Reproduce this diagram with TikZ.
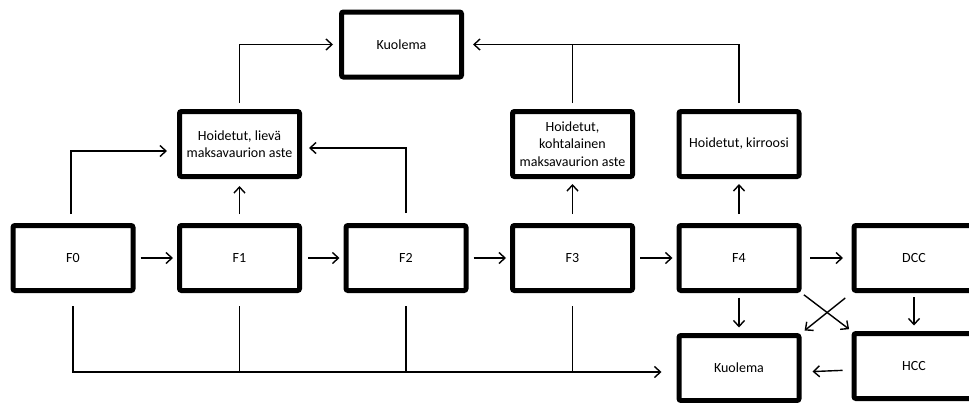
\documentclass[tikz,border=0pt]{standalone}
\usepackage{fontspec}
\setmainfont{Carlito}
\usetikzlibrary{arrows.meta}
\usetikzlibrary{positioning}

\begin{document}
\begin{tikzpicture}[x=1pt,y=-1pt,>={Straight Barb[length=6pt,width=11pt]},line width=1.4pt,
  shorten <=5pt,shorten >=4pt,node distance=41.5pt,
  box/.style={draw,rectangle,rounded corners=2pt,line width=5pt,minimum width=120pt,
    minimum height=65pt,inner sep=2pt,align=center,font=\fontsize{14}{17.5}\selectfont}]

\useasboundingbox (0,0) rectangle (969,402);

\node[box] (F0) at (73,258) {F0};
\node[box] (F1) [right=of F0] {F1};
\node[box] (F2) [right=of F1] {F2};
\node[box] (F3) [right=of F2] {F3};
\node[box] (F4) [right=of F3] {F4};
\node[box] (DCC) [right=50pt of F4] {DCC};
\node[box] (HCC) [below=38pt of DCC] {HCC};
\node[box] (K2) [below=40pt of F4] {Kuolema};

\node[box] (H1) [above=44pt of F1] {Hoidetut, lievä\\maksavaurion aste};
\node[box] (H3) [above=44pt of F3] {Hoidetut,\\kohtalainen\\maksavaurion aste};
\node[box] (H4) [above=44pt of F4] {Hoidetut, kirroosi};
\node[box] (K1) at (401.5,44.5) {Kuolema};

\coordinate (bus) at ([yshift=-4pt]K2.west);

\path[->]
	(F0) edge (F1)
	(F1) edge[shorten <=6pt] (F2)
	(F2) edge (F3)
	(F3) edge (F4)
	(F4) edge[shorten <=8.5pt,shorten >=8.5pt] (DCC)
	(F1.north) edge[shorten <=9pt,shorten >=7pt] (H1.south)
	(F3.north) edge[shorten <=9pt,shorten >=5pt] (H3.south)
	(F4.north) edge[shorten <=9pt,shorten >=5pt] (H4.south)
	(F4.south) edge[shorten <=4.5pt,shorten >=5.5pt] (K2.north)
	(DCC.south) edge[shorten <=4pt,shorten >=5.5pt] (HCC.north)
	(F4.south east) edge[shorten <=3pt,shorten >=3pt] (HCC.north west)
	(DCC.south west) edge[shorten <=8pt,shorten >=4pt] (K2.north east)
	([yshift=-4pt]HCC.west) edge[shorten <=9pt,shorten >=11pt] ([yshift=-4pt]K2.east)
	;

\draw[->,shorten <=9pt,shorten >=10pt] ([xshift=-2pt]F0.north) |- ([yshift=-7pt]H1.west);
\draw[->,shorten <=10pt,shorten >=7pt] (F2.north) |- ([yshift=-4pt]H1.east);
\draw[->,shorten <=6pt,shorten >=6pt] (H1.north) |- (K1.west);
\draw[->,shorten <=6pt,shorten >=9pt] (H4.north) |- (K1.east);
\draw[shorten <=6pt,shorten >=0pt] (H3.north) -- (H3.north |- K1.east);

\draw[->,shorten <=13pt,shorten >=15pt] (F0.south) |- (bus);
\draw[shorten <=13pt,shorten >=0pt] (F1.south) -- (F1.south |- bus);
\draw[shorten <=13pt,shorten >=0pt] (F2.south) -- (F2.south |- bus);
\draw[shorten <=13pt,shorten >=0pt] (F3.south) -- (F3.south |- bus);

\end{tikzpicture}
\end{document}
